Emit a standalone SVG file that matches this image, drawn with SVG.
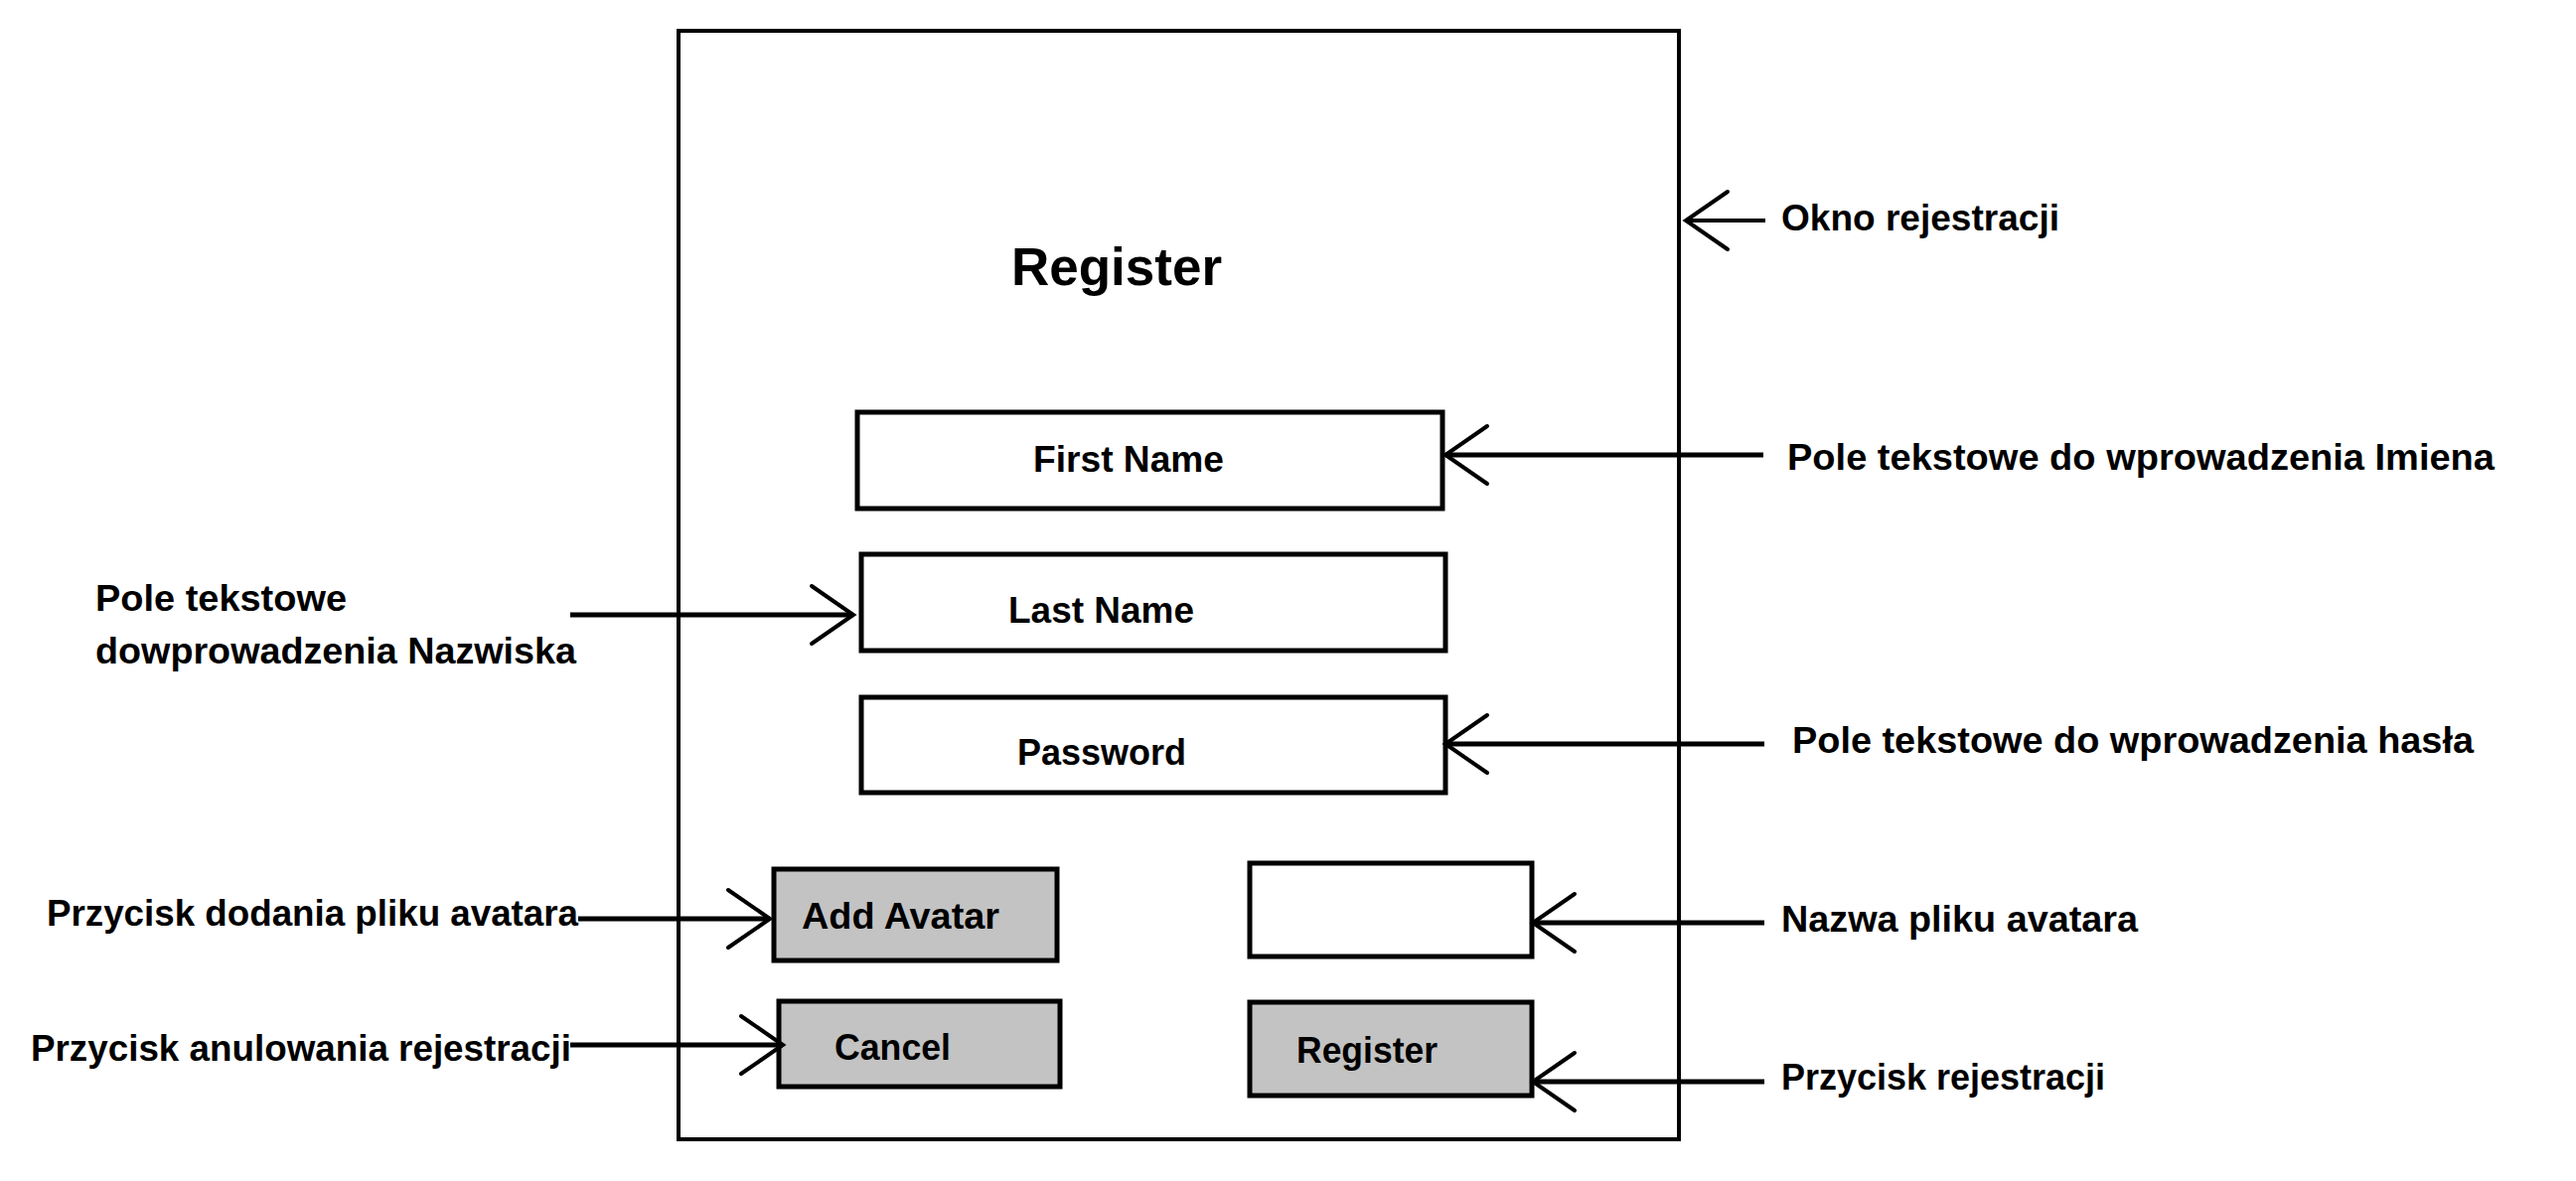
<svg xmlns="http://www.w3.org/2000/svg" width="2593" height="1189" viewBox="0 0 2593 1189">
<style>
  .box { fill: #ffffff; stroke: #000000; stroke-width: 5; }
  .btn { fill: #c3c3c3; stroke: #000000; stroke-width: 5; }
  .frame { fill: #ffffff; stroke: #000000; stroke-width: 4; }
  .t { font-family: "Liberation Sans", Arial, sans-serif; font-weight: bold; font-size: 37px; fill: #000000; }
  .title { font-size: 53px; }
  .conn { stroke: #000000; stroke-width: 5; fill: none; marker-end: url(#chev); }
</style>
<defs>
  <marker id="chev" markerUnits="userSpaceOnUse" orient="auto" markerWidth="60" markerHeight="80" refX="0" refY="0" viewBox="-50 -40 60 80" overflow="visible">
    <path d="M -42,-29 L 0,0 L -42,29" fill="none" stroke="#000000" stroke-width="4" stroke-linecap="round"/>
  </marker>
</defs>
<rect x="0" y="0" width="2593" height="1189" fill="#ffffff"/>

<g id="window">
  <rect class="frame" x="683" y="31" width="1007" height="1116"/>
  <text class="t title" x="1018" y="287" textLength="212" lengthAdjust="spacingAndGlyphs">Register</text>
</g>

<g id="first-name">
  <rect class="box" x="863" y="415" width="589" height="97"/>
  <text class="t" x="1040" y="475" textLength="192" lengthAdjust="spacingAndGlyphs">First Name</text>
</g>
<g id="last-name">
  <rect class="box" x="867" y="558" width="588" height="97"/>
  <text class="t" x="1015" y="627" textLength="187" lengthAdjust="spacingAndGlyphs">Last Name</text>
</g>
<g id="password">
  <rect class="box" x="867" y="702" width="588" height="96"/>
  <text class="t" x="1024" y="770" textLength="170" lengthAdjust="spacingAndGlyphs">Password</text>
</g>
<g id="add-avatar">
  <rect class="btn" x="779" y="875" width="285" height="92"/>
  <text class="t" x="807" y="935" textLength="199" lengthAdjust="spacingAndGlyphs">Add Avatar</text>
</g>
<g id="cancel">
  <rect class="btn" x="784" y="1008" width="283" height="86"/>
  <text class="t" x="840" y="1067" textLength="117" lengthAdjust="spacingAndGlyphs">Cancel</text>
</g>
<g id="avatar-filename">
  <rect class="box" x="1258" y="869" width="284" height="94"/>
</g>
<g id="register-button">
  <rect class="btn" x="1258" y="1009" width="284" height="94"/>
  <text class="t" x="1305" y="1070" textLength="142" lengthAdjust="spacingAndGlyphs">Register</text>
</g>

<g id="label-okno">
  <text class="t" x="1793" y="232" textLength="280" lengthAdjust="spacingAndGlyphs">Okno rejestracji</text>
</g>
<g id="label-imie">
  <text class="t" x="1799" y="473" textLength="712" lengthAdjust="spacingAndGlyphs">Pole tekstowe do wprowadzenia Imiena</text>
</g>
<g id="label-nazwisko">
  <text class="t" x="96" y="615" textLength="253" lengthAdjust="spacingAndGlyphs">Pole tekstowe</text>
  <text class="t" x="96" y="668" textLength="484" lengthAdjust="spacingAndGlyphs">dowprowadzenia Nazwiska</text>
</g>
<g id="label-haslo">
  <text class="t" x="1804" y="758" textLength="686" lengthAdjust="spacingAndGlyphs">Pole tekstowe do wprowadzenia hasła</text>
</g>
<g id="label-add-avatar">
  <text class="t" x="47" y="932" textLength="535" lengthAdjust="spacingAndGlyphs">Przycisk dodania pliku avatara</text>
</g>
<g id="label-cancel">
  <text class="t" x="31" y="1068" textLength="544" lengthAdjust="spacingAndGlyphs">Przycisk anulowania rejestracji</text>
</g>
<g id="label-filename">
  <text class="t" x="1793" y="938" textLength="359" lengthAdjust="spacingAndGlyphs">Nazwa pliku avatara</text>
</g>
<g id="label-register">
  <text class="t" x="1793" y="1097" textLength="326" lengthAdjust="spacingAndGlyphs">Przycisk rejestracji</text>
</g>

<g id="connectors">
  <path class="conn" style="stroke-width:4" d="M 1777,222 L 1697,222"/>
  <path class="conn" d="M 1775,458 L 1455,458"/>
  <path class="conn" d="M 574,619 L 859,619"/>
  <path class="conn" d="M 1776,749 L 1455,749"/>
  <path class="conn" d="M 582,925 L 775,925"/>
  <path class="conn" d="M 574,1052 L 788,1052"/>
  <path class="conn" d="M 1776,929 L 1543,929"/>
  <path class="conn" d="M 1776,1089 L 1543,1089"/>
</g>
</svg>
